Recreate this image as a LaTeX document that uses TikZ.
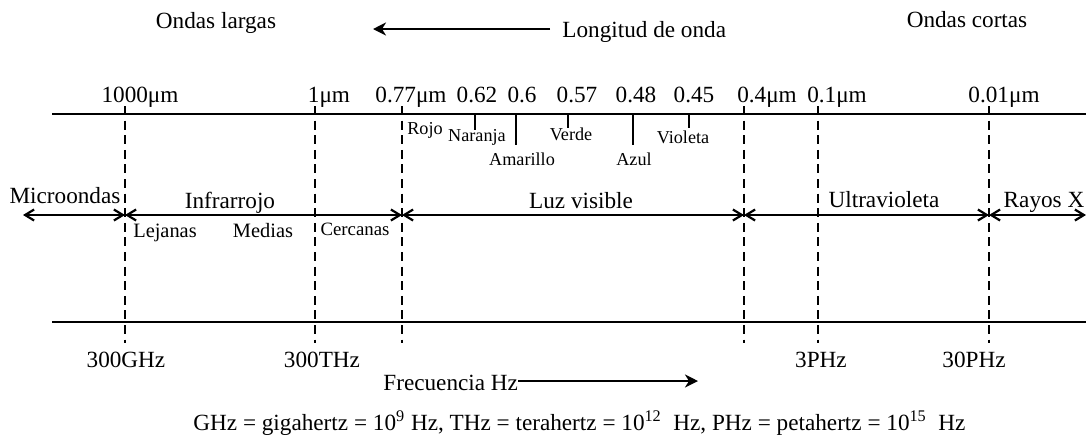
\documentclass[tikz,border=0pt]{standalone}
\usepackage{fontspec}
\setmainfont{Liberation Serif}
\usetikzlibrary{arrows.meta}
\begin{document}
\begin{tikzpicture}[x=0.5pt,y=-0.5pt,
  lbl/.style={inner sep=0pt,anchor=base,font=\fontsize{11.6}{13}\selectfont},
  slbl/.style={inner sep=0pt,anchor=base,font=\fontsize{9.1}{11}\selectfont},
  mlbl/.style={inner sep=0pt,anchor=base,font=\fontsize{10.2}{12}\selectfont},
  axis/.style={line width=1.4pt},
  divline/.style={line width=1.15pt,dash pattern=on 4.5pt off 2.8pt},
  colortick/.style={line width=0.8pt},
  span/.style={line width=1.1pt,{Straight Barb[length=4.5pt,width=5.5pt]}-{Straight Barb[length=4.5pt,width=5.5pt]}},
  bigarrow/.style={line width=1.4pt,-{Stealth[length=6.5pt,width=6.5pt,inset=2pt]}}]
\useasboundingbox (0,0) rectangle (1086,436);

% top texts
\node[lbl] (largas) at (216,28) {Ondas largas};
\node[lbl] (cortas) at (967,27) {Ondas cortas};
\node[lbl,anchor=base west] (long) at (562,37) {Longitud de onda};
\coordinate (longstart) at (550,29);
\coordinate (longend) at (373,29);
\draw[bigarrow] (longstart) -- (longend);

% axes
\coordinate (tl) at (52,114); \coordinate (tr) at (1086,114);
\coordinate (bl) at (52,322); \coordinate (br) at (1086,322);
\draw[axis] (tl) -- (tr);
\draw[axis] (bl) -- (br);

% dashed dividers
\foreach \n/\x in {a/125,b/315,c/402,d/744,e/818,f/989}{
  \coordinate (\n top) at (\x,106);
  \coordinate (\n bot) at (\x,343);
  \coordinate (\n mid) at (\x,215);
  \draw[divline] (\n top) -- (\n bot);
}

% color ticks
\foreach \n/\x/\y in {t62/475/130,t60/516/145,t57/568/128,t48/633/145,t45/689/128}{
  \coordinate (\n a) at (\x,114);
  \coordinate (\n b) at (\x,\y);
  \draw[colortick] (\n a) -- (\n b);
}

% wavelength labels
\node[lbl] (w1) at (140,102) {1000μm};
\node[lbl] (w2) at (329,102) {1μm};
\node[lbl] (w3) at (411,102) {0.77μm};
\node[lbl] (w4) at (477,102) {0.62};
\node[lbl] (w5) at (522,102) {0.6};
\node[lbl] (w6) at (577,102) {0.57};
\node[lbl] (w7) at (636,102) {0.48};
\node[lbl] (w8) at (694,102) {0.45};
\node[lbl] (w9) at (767,102) {0.4μm};
\node[lbl] (w10) at (837,102) {0.1μm};
\node[lbl] (w11) at (1004,102) {0.01μm};

% colour names
\node[slbl] (rojo) at (425,134) {Rojo};
\node[slbl] (naranja) at (477,141) {Naranja};
\node[slbl] (amarillo) at (522,165) {Amarillo};
\node[slbl] (verde) at (571,140) {Verde};
\node[slbl] (azul) at (634,165) {Azul};
\node[slbl] (violeta) at (683,143) {Violeta};

% spans
\coordinate (ml) at (23,215); \coordinate (mr) at (1086,215);
\draw[span] (ml) -- (amid);
\draw[span] (amid) -- (cmid);
\draw[span] (cmid) -- (dmid);
\draw[span] (dmid) -- (fmid);
\draw[span] (fmid) -- (mr);

\node[lbl] (micro) at (65,203) {Microondas};
\node[lbl] (infra) at (230,208) {Infrarrojo};
\node[lbl] (luz) at (581,208) {Luz visible};
\node[lbl] (ultra) at (884,207) {Ultravioleta};
\node[lbl] (rayos) at (1044,207) {Rayos X};

\node[mlbl] (lejanas) at (165,237) {Lejanas};
\node[mlbl] (medias) at (263,237) {Medias};
\node[slbl,font=\fontsize{9.4}{11}\selectfont] (cercanas) at (355,235) {Cercanas};

% frequency labels
\node[lbl] (f1) at (126,367) {300GHz};
\node[lbl] (f2) at (322,367) {300THz};
\node[lbl] (f3) at (821,367) {3PHz};
\node[lbl] (f4) at (974,367) {30PHz};

\node[lbl,anchor=base west] (freq) at (383,390) {Frecuencia Hz};
\coordinate (fs) at (518,381); \coordinate (fe) at (698,381);
\draw[bigarrow] (fs) -- (fe);

\node[lbl,anchor=base west] (note) at (193,430) {GHz = gigahertz = 10\textsuperscript{9} Hz, THz = terahertz = 10\textsuperscript{12}\ \ Hz, PHz = petahertz = 10\textsuperscript{15}\ \ Hz};
\end{tikzpicture}
\end{document}
